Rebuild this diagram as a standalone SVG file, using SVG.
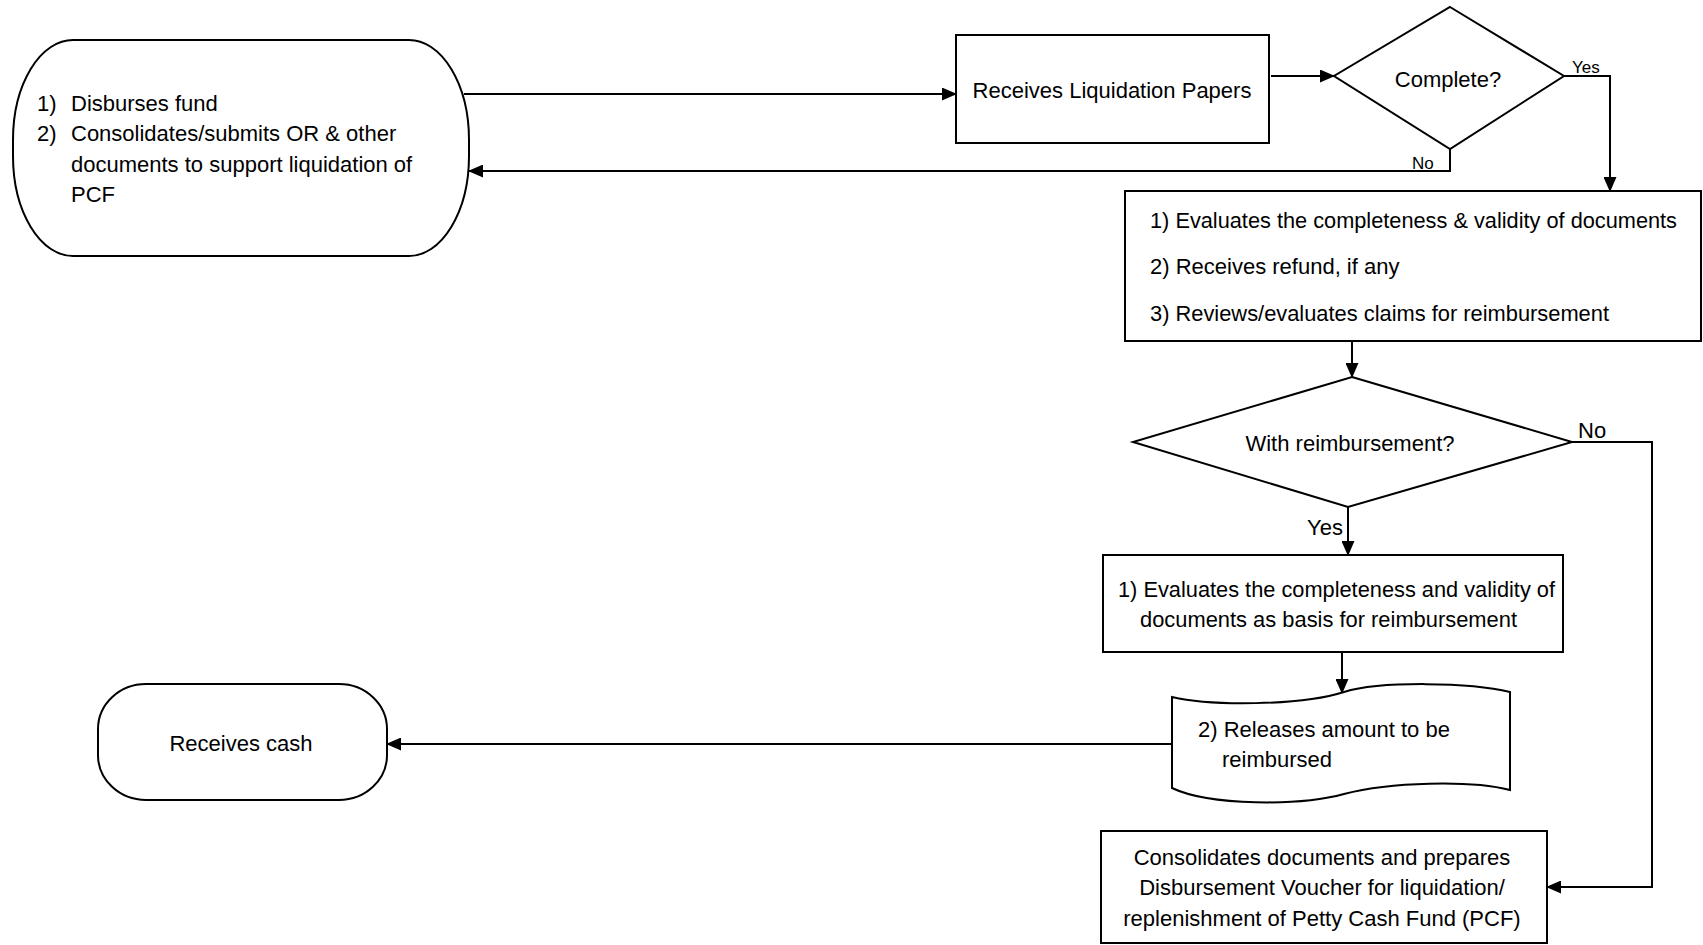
<svg xmlns="http://www.w3.org/2000/svg" width="1703" height="945" viewBox="0 0 1703 945">
<style>
.s{fill:#fff;stroke:#000;stroke-width:2}
.t{font-family:"Liberation Sans",Arial,sans-serif;font-size:22px;fill:#000}
.m{text-anchor:middle}
.sm{font-size:17px}
.c{fill:none;stroke:#000;stroke-width:2}
</style>
<defs>
<marker id="ah" markerUnits="userSpaceOnUse" markerWidth="15" markerHeight="13" refX="14" refY="6.5" orient="auto">
<path d="M0,0 L15,6.5 L0,13 Z" fill="#000"/>
</marker>
</defs>
<rect width="1703" height="945" fill="#fff"/>
<g id="connectors">
<path class="c" d="M464 94 H956" marker-end="url(#ah)"/>
<path class="c" d="M1271 76 H1334" marker-end="url(#ah)"/>
<path class="c" d="M1564 76 H1610 V191" marker-end="url(#ah)"/>
<path class="c" d="M1450 149 V171 H469" marker-end="url(#ah)"/>
<path class="c" d="M1352 341 V377" marker-end="url(#ah)"/>
<path class="c" d="M1572 442 H1652 V887 H1547" marker-end="url(#ah)"/>
<path class="c" d="M1348 507 V555" marker-end="url(#ah)"/>
<path class="c" d="M1342 652 V693" marker-end="url(#ah)"/>
<path class="c" d="M1172 744 H387" marker-end="url(#ah)"/>
<text class="t sm" x="1572" y="73">Yes</text>
<text class="t sm" x="1412" y="169">No</text>
<text class="t" x="1578" y="438">No</text>
<text class="t" x="1307" y="535">Yes</text>
</g>
<g id="n1">
<rect class="s" x="13" y="40" width="456" height="216" rx="60" ry="100"/>
<text class="t" x="37" y="111">1)</text>
<text class="t" x="71" y="111">Disburses fund</text>
<text class="t" x="37" y="141">2)</text>
<text class="t" x="71" y="141">Consolidates/submits OR &amp; other</text>
<text class="t" x="71" y="172">documents to support liquidation of</text>
<text class="t" x="71" y="202">PCF</text>
</g>
<g id="n2">
<rect class="s" x="956" y="35" width="313" height="108"/>
<text class="t m" x="1112" y="98">Receives Liquidation Papers</text>
</g>
<g id="n3">
<polygon class="s" points="1450,7 1564,76 1450,149 1334,76"/>
<text class="t m" x="1448" y="87">Complete?</text>
</g>
<g id="n4">
<rect class="s" x="1125" y="191" width="576" height="150"/>
<text class="t" x="1150" y="228" textLength="527" lengthAdjust="spacingAndGlyphs">1) Evaluates the completeness &amp; validity of documents</text>
<text class="t" x="1150" y="274">2) Receives refund, if any</text>
<text class="t" x="1150" y="321" textLength="459" lengthAdjust="spacingAndGlyphs">3) Reviews/evaluates claims for reimbursement</text>
</g>
<g id="n5">
<polygon class="s" points="1352,377 1572,442 1348,507 1133,442"/>
<text class="t m" x="1350" y="451">With reimbursement?</text>
</g>
<g id="n6">
<rect class="s" x="1103" y="555" width="460" height="97"/>
<text class="t" x="1118" y="597" textLength="437" lengthAdjust="spacingAndGlyphs">1) Evaluates the completeness and validity of</text>
<text class="t" x="1140" y="627" textLength="377" lengthAdjust="spacingAndGlyphs">documents as basis for reimbursement</text>
</g>
<g id="n7">
<path class="s" d="M1172 697 C1210 706,1300 706,1344 692 C1380 681,1470 682,1510 692 V790 C1470 780,1390 782,1344 794 C1300 806,1210 806,1172 788 Z"/>
<text class="t" x="1198" y="737">2) Releases amount to be</text>
<text class="t" x="1222" y="767">reimbursed</text>
</g>
<g id="n8">
<rect class="s" x="98" y="684" width="289" height="116" rx="48" ry="45"/>
<text class="t m" x="241" y="751">Receives cash</text>
</g>
<g id="n9">
<rect class="s" x="1101" y="831" width="446" height="112"/>
<text class="t m" x="1322" y="865">Consolidates documents and prepares</text>
<text class="t m" x="1322" y="895">Disbursement Voucher for liquidation/</text>
<text class="t m" x="1322" y="926">replenishment of Petty Cash Fund (PCF)</text>
</g>
</svg>
